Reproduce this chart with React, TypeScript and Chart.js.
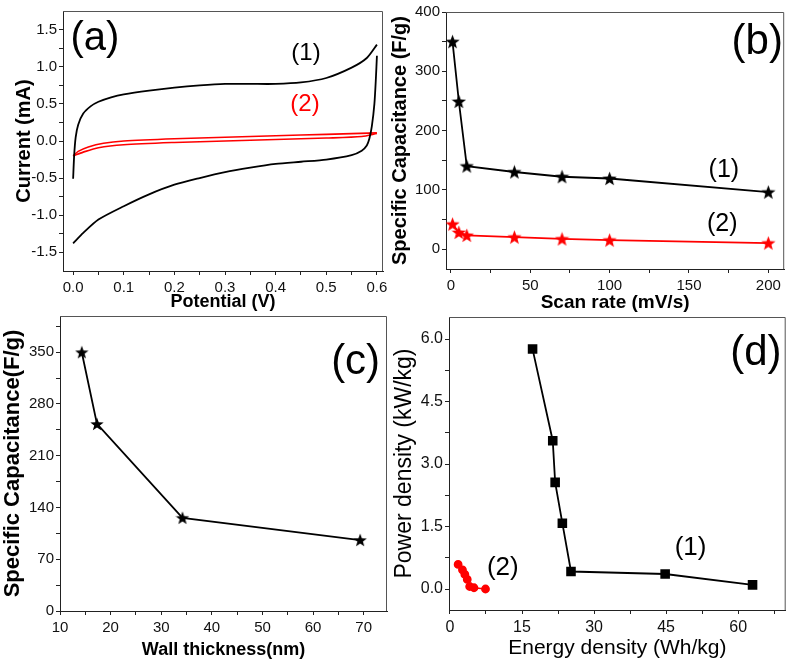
import React, { useEffect, useRef } from 'react';
import { Chart, registerables } from 'chart.js';
Chart.register(...registerables);

const FONT = '"Liberation Sans", Arial, Helvetica, sans-serif';

// ---------- Panel (a): cyclic voltammetry ----------
const cv1ForwardV = [0, 0.002, 0.005, 0.01, 0.02, 0.035, 0.05, 0.075, 0.1, 0.15, 0.2, 0.25, 0.3, 0.35, 0.4, 0.45, 0.5, 0.55, 0.58, 0.6];
const cv1ForwardI = [-0.51, -0.2, 0.05, 0.22, 0.37, 0.47, 0.53, 0.59, 0.63, 0.68, 0.72, 0.75, 0.77, 0.77, 0.77, 0.79, 0.85, 0.99, 1.12, 1.3];
const cv1ReverseV = [0.6, 0.598, 0.595, 0.59, 0.585, 0.58, 0.57, 0.55, 0.5, 0.45, 0.4, 0.35, 0.3, 0.25, 0.2, 0.15, 0.1, 0.05, 0.02, 0];
const cv1ReverseI = [1.15, 0.85, 0.5, 0.2, 0.03, -0.06, -0.13, -0.19, -0.25, -0.28, -0.31, -0.36, -0.42, -0.5, -0.59, -0.72, -0.88, -1.06, -1.24, -1.38];
const cv2ForwardV = [0, 0.01, 0.03, 0.06, 0.1, 0.2, 0.3, 0.4, 0.5, 0.6];
const cv2ForwardI = [-0.2, -0.14, -0.08, -0.03, 0.0, 0.03, 0.05, 0.07, 0.09, 0.11];
const cv2ReverseV = [0.6, 0.57, 0.5, 0.4, 0.3, 0.2, 0.1, 0.05, 0.02, 0];
const cv2ReverseI = [0.1, 0.06, 0.04, 0.02, 0.0, -0.02, -0.05, -0.09, -0.15, -0.2];
const aTicksX = [0, 0.1, 0.2, 0.3, 0.4, 0.5, 0.6];
const aLabelsX = ['0.0', '0.1', '0.2', '0.3', '0.4', '0.5', '0.6'];
const aMinorX = [0.05, 0.15, 0.25, 0.35, 0.45, 0.55];
const aTicksY = [-1.5, -1.0, -0.5, 0, 0.5, 1.0, 1.5];
const aLabelsY = ['-1.5', '-1.0', '-0.5', '0.0', '0.5', '1.0', '1.5'];
const aMinorY = [-1.25, -0.75, -0.25, 0.25, 0.75, 1.25];

// ---------- Panel (b): capacitance vs scan rate ----------
const scanRates = [1, 5, 10, 40, 70, 100, 200];
const capacitance1 = [350, 249, 140, 130, 122, 119, 96];
const capacitance2 = [42, 28, 23, 20, 17, 15, 10];
const bTicksX = [0, 50, 100, 150, 200];
const bLabelsX = ['0', '50', '100', '150', '200'];
const bMinorX = [25, 75, 125, 175];
const bTicksY = [0, 100, 200, 300, 400];
const bLabelsY = ['0', '100', '200', '300', '400'];
const bMinorY = [50, 150, 250, 350];

// ---------- Panel (c): capacitance vs wall thickness ----------
const wallThickness = [14.3, 17.3, 34.2, 69.3];
const capacitanceByWall = [350, 253, 126, 96];
const cTicksX = [10, 20, 30, 40, 50, 60, 70];
const cLabelsX = ['10', '20', '30', '40', '50', '60', '70'];
const cMinorX = [15, 25, 35, 45, 55, 65];
const cTicksY = [0, 70, 140, 210, 280, 350];
const cLabelsY = ['0', '70', '140', '210', '280', '350'];
const cMinorY = [35, 105, 175, 245, 315, 385];

// ---------- Panel (d): Ragone plot ----------
const energy1 = [17.2, 21.4, 21.9, 23.4, 25.2, 44.8, 63.0];
const power1 = [5.76, 3.56, 2.56, 1.58, 0.42, 0.36, 0.1];
const energy2 = [1.7, 2.6, 3.1, 3.6, 4.1, 5.0, 7.4];
const power2 = [0.59, 0.46, 0.35, 0.23, 0.06, 0.03, 0.0];
const dTicksX = [0, 15, 30, 45, 60];
const dLabelsX = ['0', '15', '30', '45', '60'];
const dMinorX = [7.5, 22.5, 37.5, 52.5, 67.5];
const dTicksY = [0, 1.5, 3.0, 4.5, 6.0];
const dLabelsY = ['0.0', '1.5', '3.0', '4.5', '6.0'];
const dMinorY = [0.75, 2.25, 3.75, 5.25];

const zip = (xs: number[], ys: number[]) => xs.map((x, i) => ({ x, y: ys[i] }));

function makeStar(color: string, size: number) {
  const c = document.createElement('canvas');
  c.width = size;
  c.height = size;
  const ctx = c.getContext('2d')!;
  const cx = size / 2;
  const cy = size / 2 + size * 0.04;
  const R = size / 2;
  const r = R * 0.42;
  ctx.beginPath();
  for (let i = 0; i < 10; i++) {
    const ang = -Math.PI / 2 + (i * Math.PI) / 5;
    const rad = i % 2 === 0 ? R : r;
    ctx.lineTo(cx + rad * Math.cos(ang), cy + rad * Math.sin(ang));
  }
  ctx.closePath();
  ctx.fillStyle = color;
  ctx.fill();
  return c;
}

type Item = { text: string; x: number; y: number; color: string; font: string };

function overlayPlugin(items: Item[]) {
  return {
    id: 'overlay',
    afterDraw(chart: any) {
      const { ctx, chartArea: a, scales } = chart;
      ctx.save();
      ctx.strokeStyle = '#555';
      ctx.lineWidth = 1;
      ctx.beginPath();
      ctx.moveTo(a.left, a.top + 0.5);
      ctx.lineTo(a.right - 0.5, a.top + 0.5);
      ctx.lineTo(a.right - 0.5, a.bottom);
      ctx.stroke();
      ctx.textAlign = 'center';
      ctx.textBaseline = 'middle';
      for (const it of items) {
        ctx.font = it.font;
        ctx.fillStyle = it.color;
        ctx.fillText(it.text, scales.x.getPixelForValue(it.x), scales.y.getPixelForValue(it.y));
      }
      ctx.restore();
    },
  };
}

type AxisOpts = {
  isX: boolean;
  min: number;
  max: number;
  majors: number[];
  labels: string[];
  minors: number[];
  size: number;
  title: string;
  titleSize: number;
  titleBold: boolean;
  titlePad: number;
  tickSize: number;
  tickPad: number;
};

function axis(o: AxisOpts) {
  return {
    type: 'linear',
    position: o.isX ? 'bottom' : 'left',
    min: o.min,
    max: o.max,
    afterBuildTicks: (s: any) => {
      s.ticks = [...o.majors, ...o.minors].sort((a, b) => a - b).map((v) => ({ value: v }));
    },
    afterFit: (s: any) => {
      if (o.isX) s.height = o.size;
      else s.width = o.size;
    },
    grid: { display: true, drawOnChartArea: false, drawTicks: true, tickLength: 4, color: '#222', tickColor: '#222' },
    border: { display: true, color: '#222', width: 1 },
    ticks: {
      autoSkip: false,
      maxRotation: 0,
      minRotation: 0,
      padding: o.tickPad,
      color: '#111',
      font: { family: FONT, size: o.tickSize },
      callback: (v: number) => {
        const i = o.majors.indexOf(v);
        return i >= 0 ? o.labels[i] : '';
      },
    },
    title: {
      display: true,
      text: o.title,
      color: '#000',
      font: { family: FONT, size: o.titleSize, weight: o.titleBold ? 'bold' : 'normal' },
      padding: { top: o.titlePad, bottom: o.titlePad },
    },
  };
}

type Box = { l: number; t: number; r: number; b: number; padL: number; xH: number };

function baseOptions(box: Box, x: any, y: any) {
  return {
    responsive: false,
    animation: false,
    devicePixelRatio: 1,
    events: [],
    layout: { padding: { left: box.padL, top: box.t, right: 793 - box.r, bottom: 667 - box.b - box.xH } },
    plugins: { legend: { display: false }, tooltip: { enabled: false } },
    scales: { x, y },
  };
}

function configA() {
  const box: Box = { l: 63, t: 9, r: 383, b: 271, padL: 0, xH: 45 };
  const line = (data: any, color: string, w: number) => ({
    data, borderColor: color, borderWidth: w, pointRadius: 0, showLine: true, tension: 0.25,
  });
  return {
    type: 'scatter',
    data: {
      datasets: [
        line(zip(cv1ForwardV, cv1ForwardI), '#000', 1.8),
        line(zip(cv1ReverseV, cv1ReverseI), '#000', 1.8),
        line(zip(cv2ForwardV, cv2ForwardI), '#ff0000', 1.6),
        line(zip(cv2ReverseV, cv2ReverseI), '#ff0000', 1.6),
      ],
    },
    options: baseOptions(
      box,
      axis({ isX: true, min: -0.02, max: 0.612, majors: aTicksX, labels: aLabelsX, minors: aMinorX, size: box.xH, title: 'Potential (V)', titleSize: 18, titleBold: true, titlePad: 2.7, tickSize: 15, tickPad: 4 }),
      axis({ isX: false, min: -1.754, max: 1.754, majors: aTicksY, labels: aLabelsY, minors: aMinorY, size: box.l - box.padL, title: 'Current (mA)', titleSize: 20, titleBold: true, titlePad: 12, tickSize: 15, tickPad: 2 }),
    ),
    plugins: [
      overlayPlugin([
        { text: '(a)', x: 0.043, y: 1.38, color: '#000', font: `40px ${FONT}` },
        { text: '(1)', x: 0.46, y: 1.18, color: '#000', font: `24px ${FONT}` },
        { text: '(2)', x: 0.458, y: 0.49, color: '#ff0000', font: `24px ${FONT}` },
      ]),
    ],
  };
}

function configB() {
  const box: Box = { l: 446, t: 12, r: 788, b: 269, padL: 388, xH: 45 };
  const starK = makeStar('#000', 15);
  const starR = makeStar('#ff0000', 15);
  return {
    type: 'scatter',
    data: {
      datasets: [
        { data: zip(scanRates, capacitance1), borderColor: '#000', borderWidth: 1.8, showLine: true, pointStyle: starK, pointRadius: 7 },
        { data: zip(scanRates, capacitance2), borderColor: '#ff0000', borderWidth: 1.8, showLine: true, pointStyle: starR, pointRadius: 7 },
      ],
    },
    options: baseOptions(
      box,
      axis({ isX: true, min: -3.1, max: 210, majors: bTicksX, labels: bLabelsX, minors: bMinorX, size: box.xH, title: 'Scan rate (mV/s)', titleSize: 19, titleBold: true, titlePad: 0.1, tickSize: 15, tickPad: 4 }),
      axis({ isX: false, min: -33.7, max: 400, majors: bTicksY, labels: bLabelsY, minors: bMinorY, size: box.l - box.padL, title: 'Specific Capacitance (F/g)', titleSize: 20, titleBold: true, titlePad: 0, tickSize: 15, tickPad: 2 }),
    ),
    plugins: [
      overlayPlugin([
        { text: '(b)', x: 193, y: 349, color: '#000', font: `42px ${FONT}` },
        { text: '(1)', x: 172, y: 133, color: '#000', font: `25px ${FONT}` },
        { text: '(2)', x: 171, y: 42, color: '#000', font: `25px ${FONT}` },
      ]),
    ],
  };
}

function configC() {
  const box: Box = { l: 60, t: 316, r: 387, b: 611, padL: 0, xH: 50 };
  const starK = makeStar('#000', 14);
  return {
    type: 'scatter',
    data: {
      datasets: [
        { data: zip(wallThickness, capacitanceByWall), borderColor: '#000', borderWidth: 1.8, showLine: true, pointStyle: starK, pointRadius: 7 },
      ],
    },
    options: baseOptions(
      box,
      axis({ isX: true, min: 10, max: 74.6, majors: cTicksX, labels: cLabelsX, minors: cMinorX, size: box.xH, title: 'Wall thickness(nm)', titleSize: 18, titleBold: true, titlePad: 0.2, tickSize: 15, tickPad: 4 }),
      axis({ isX: false, min: 0, max: 399, majors: cTicksY, labels: cLabelsY, minors: cMinorY, size: box.l - box.padL, title: 'Specific Capacitance(F/g)', titleSize: 22, titleBold: true, titlePad: 0, tickSize: 15, tickPad: 2 }),
    ),
    plugins: [
      overlayPlugin([
        { text: '(c)', x: 68.4, y: 336, color: '#000', font: `42px ${FONT}` },
      ]),
    ],
  };
}

function configD() {
  const box: Box = { l: 449, t: 317, r: 788, b: 610, padL: 390, xH: 52 };
  return {
    type: 'scatter',
    data: {
      datasets: [
        { data: zip(energy1, power1), borderColor: '#000', backgroundColor: '#000', borderWidth: 1.8, showLine: true, pointStyle: 'rect', pointRadius: 5.5 },
        { data: zip(energy2, power2), borderColor: '#ff0000', backgroundColor: '#ff0000', borderWidth: 1.6, showLine: true, pointStyle: 'circle', pointRadius: 3.6 },
      ],
    },
    options: baseOptions(
      box,
      axis({ isX: true, min: -0.2, max: 69.9, majors: dTicksX, labels: dLabelsX, minors: dMinorX, size: box.xH, title: 'Energy density (Wh/kg)', titleSize: 21, titleBold: false, titlePad: 1.4, tickSize: 16, tickPad: 4 }),
      axis({ isX: false, min: -0.504, max: 6.53, majors: dTicksY, labels: dLabelsY, minors: dMinorY, size: box.l - box.padL, title: 'Power density (kW/kg)', titleSize: 23, titleBold: false, titlePad: 1.2, tickSize: 16, tickPad: 2 }),
    ),
    plugins: [
      overlayPlugin([
        { text: '(d)', x: 63.7, y: 5.66, color: '#000', font: `42px ${FONT}` },
        { text: '(1)', x: 50.1, y: 1.0, color: '#000', font: `26px ${FONT}` },
        { text: '(2)', x: 11.0, y: 0.5, color: '#000', font: `26px ${FONT}` },
      ]),
    ],
  };
}

function Panel({ make }: { make: () => any }) {
  const ref = useRef<HTMLCanvasElement>(null);
  useEffect(() => {
    const chart = new Chart(ref.current as HTMLCanvasElement, make());
    return () => chart.destroy();
  }, []);
  return (
    <canvas
      ref={ref}
      width={793}
      height={667}
      style={{ position: 'absolute', left: 0, top: 0, width: 793, height: 667 }}
    />
  );
}

export default function App() {
  return (
    <div style={{ position: 'absolute', left: 0, top: 0, width: 793, height: 667, background: '#fff', overflow: 'hidden' }}>
      <Panel make={configA} />
      <Panel make={configB} />
      <Panel make={configC} />
      <Panel make={configD} />
    </div>
  );
}
